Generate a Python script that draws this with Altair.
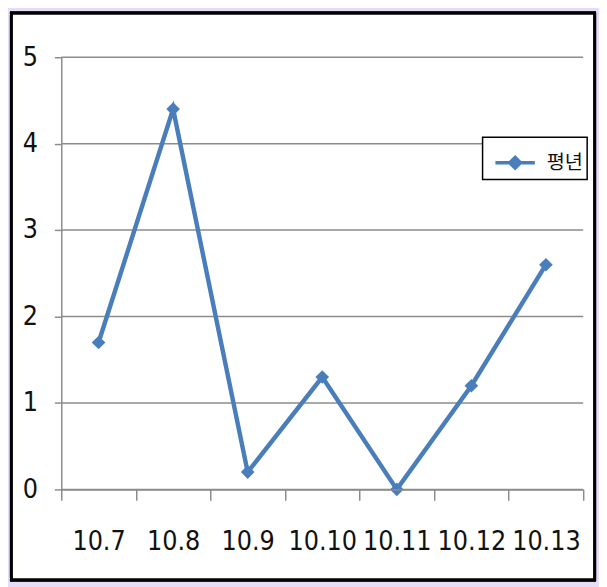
import altair as alt
import pandas as pd

dates = ["10.7", "10.8", "10.9", "10.10", "10.11", "10.12", "10.13"]
values = [1.7, 4.4, 0.2, 1.3, 0.0, 1.2, 2.6]
series_name = "평년"
y_ticks = [0, 1, 2, 3, 4, 5]

LINE = "#4A7EBB"
GRID = "#8C8C8C"
NUM_FONT = "DejaVu Sans Condensed, Liberation Sans Narrow, DejaVu Sans"

df = pd.DataFrame({"date": dates, "value": values, "series": [series_name] * len(dates)})
grid_df = pd.DataFrame({"value": y_ticks})

W, H = 529, 438

x_enc = alt.X(
    "date:N", sort=dates, title=None,
    scale=alt.Scale(type="band", paddingInner=0, paddingOuter=0),
    axis=alt.Axis(
        labelAngle=0, tickBand="extent", tickSize=11, tickWidth=1.5, tickColor=GRID,
        domainColor=GRID, domainWidth=1.5, labelFont=NUM_FONT, labelFontSize=27,
        labelColor="#111", labelPadding=29, zindex=1, grid=False,
    ),
)
y_scale = alt.Scale(domain=[0, 5], nice=False)
y_axis = alt.Axis(
    values=y_ticks, tickSize=7, tickWidth=1.5, tickColor=GRID, domainColor=GRID,
    domainWidth=1.5, grid=False, labelFont=NUM_FONT, labelFontSize=27,
    labelColor="#111", labelPadding=17, zindex=1,
)

frame = alt.Chart(df).mark_rect(fill="white", stroke="black", strokeWidth=3).encode(
    x=alt.value(-50.5), x2=alt.value(540.5), y=alt.value(-44.5), y2=alt.value(529.5)
)

grid = alt.Chart(grid_df).mark_rule(color=GRID, strokeWidth=1.5).encode(
    y=alt.Y("value:Q", scale=y_scale, axis=y_axis, title=None)
)

legend_symbol = "M-1,0H1M-0.27,0L0,-0.27L0.27,0L0,0.27Z"

line = alt.Chart(df).mark_line(
    strokeWidth=4.5,
    point=alt.OverlayMarkDef(shape="diamond", size=190, filled=True, color=LINE),
).encode(
    x=x_enc,
    y=alt.Y("value:Q", scale=y_scale, axis=y_axis, title=None),
    color=alt.Color(
        "series:N", scale=alt.Scale(range=[LINE]),
        legend=alt.Legend(
            title=None, orient="none", legendX=427, legendY=81,
            strokeColor="black", fillColor="white", padding=4,
            symbolType=legend_symbol, symbolSize=1600, symbolStrokeWidth=3.5,
            symbolFillColor=LINE, symbolStrokeColor=LINE, symbolOffset=7,
            labelFont="Noto Sans CJK KR", labelFontSize=20, labelColor="#111",
            labelOffset=10,
        ),
    ),
)

chart = alt.layer(frame, grid, line).properties(
    width=W, height=H,
    background="#E6DCF8",
    padding={"left": 2, "top": 0, "right": 3, "bottom": 2},
).configure_view(stroke=None).configure_legend(strokeWidth=1.5)

chart.save("out.html", embed_options={"renderer": "svg", "actions": False})
